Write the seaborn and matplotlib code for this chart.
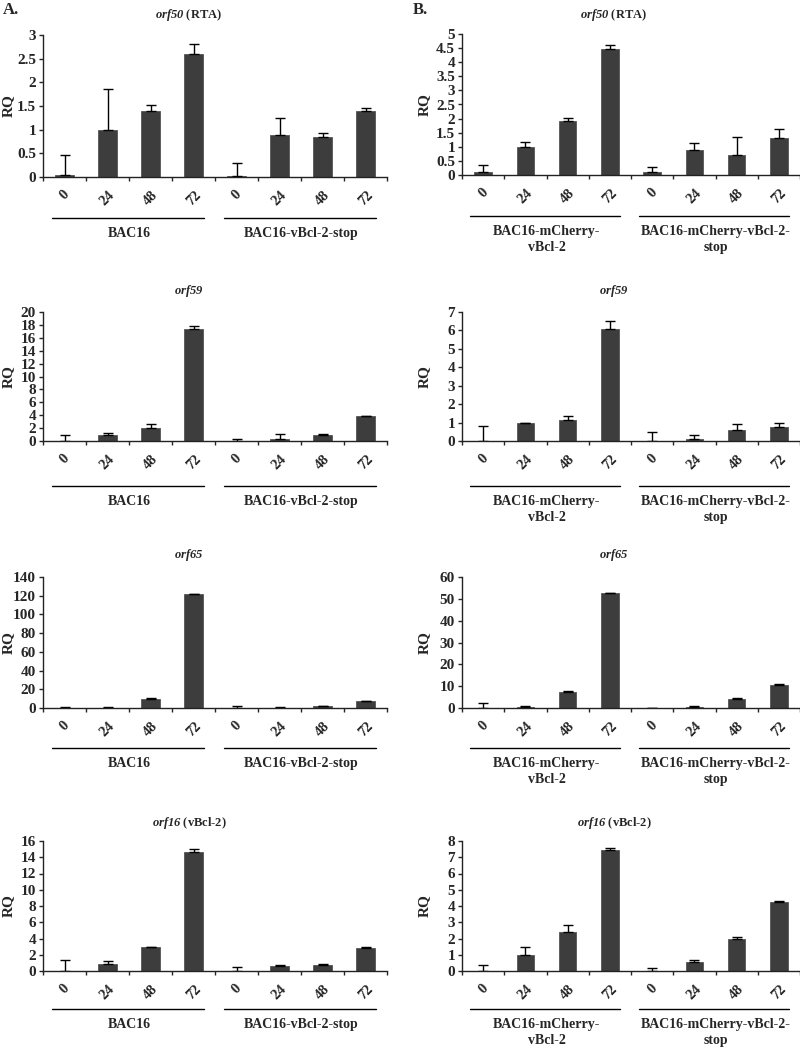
import numpy as np
import pandas as pd
import matplotlib
matplotlib.use('Agg')
import matplotlib.pyplot as plt
import matplotlib.transforms as mtrans
import seaborn as sns

# time points (h) and strains
hours = ['0', '24', '48', '72']
groups_a = ['BAC16', 'BAC16-vBcl-2-stop']
groups_b = ['BAC16-mCherry-\nvBcl-2', 'BAC16-mCherry-vBcl-2-\nstop']
genes = [r'$orf50$ (RTA)', r'$orf59$', r'$orf65$', r'$orf16$ (vBcl-2)']

# panel A values (wt 0,24,48,72 then stop 0,24,48,72), upper error
a_rq = [
    [0.04, 1.0, 1.4, 2.6, 0.02, 0.88, 0.85, 1.4],
    [0.05, 0.9, 2.0, 17.4, 0.05, 0.35, 0.9, 3.8],
    [0.5, 0.5, 10.0, 121.5, 0.5, 0.5, 2.0, 7.0],
    [0.02, 0.9, 2.95, 14.6, 0.02, 0.6, 0.8, 2.85],
]
a_err = [
    [0.42, 0.85, 0.12, 0.2, 0.28, 0.37, 0.09, 0.06],
    [0.95, 0.3, 0.6, 0.45, 0.25, 0.75, 0.15, 0.1],
    [0.1, 0.2, 0.4, 0.8, 2.0, 0.2, 0.3, 0.5],
    [1.33, 0.35, 0.05, 0.4, 0.43, 0.1, 0.02, 0.05],
]
a_ymax = [3, 20, 140, 16]
a_step = [0.5, 2, 20, 2]

# panel B values
b_rq = [
    [0.1, 1.0, 1.9, 4.47, 0.1, 0.9, 0.7, 1.3],
    [0.0, 0.97, 1.15, 6.07, 0.0, 0.12, 0.57, 0.77],
    [0.2, 0.5, 7.3, 52.5, 0.1, 0.5, 4.3, 10.6],
    [0.02, 1.0, 2.4, 7.47, 0.02, 0.58, 1.97, 4.25],
]
b_err = [
    [0.25, 0.18, 0.13, 0.13, 0.18, 0.25, 0.65, 0.33],
    [0.8, 0.03, 0.2, 0.43, 0.5, 0.2, 0.33, 0.2],
    [2.0, 0.3, 0.3, 0.3, 0.1, 0.3, 0.2, 0.2],
    [0.33, 0.5, 0.42, 0.08, 0.15, 0.09, 0.1, 0.08],
]
b_ymax = [5, 7, 60, 8]
b_step = [0.5, 1, 10, 1]

sns.set_style('ticks')
plt.rcParams['font.family'] = ['Liberation Serif', 'DejaVu Serif']
plt.rcParams['font.weight'] = 'bold'
plt.rcParams['mathtext.fontset'] = 'custom'
# gene names fully italic (digits too)
plt.rcParams['mathtext.it'] = 'Liberation Serif:italic:bold'
plt.rcParams['mathtext.rm'] = 'Liberation Serif:italic:bold'

W, H = 800, 1052
fig = plt.figure(figsize=(8, 10.52), dpi=100)

# pixel boxes: (top, bottom) per row, (left, right) per column
rows_a = [(35, 177), (312, 441), (577, 708), (841, 971)]
rows_b = [(34, 175), (312, 441), (577, 708), (841, 971)]
cols = [(43, 387), (462, 800)]
line_off = [41, 45, 40, 38]
title_y = [15, 291, 555, 823]
title_x = [189, 614]

bar_color = '#3d3d3d'


def draw_panel(ax, rq, err, ymax, step, groups, row):
    df = pd.DataFrame({'pos': np.arange(8), 'RQ': rq})
    sns.barplot(data=df, x='pos', y='RQ', color=bar_color, width=0.42,
                saturation=1, errorbar=None, edgecolor='#555555', linewidth=0.6, ax=ax)
    ax.errorbar(df['pos'], df['RQ'], yerr=[np.zeros(8), err], fmt='none',
                ecolor='black', elinewidth=1, capsize=3.5, capthick=1)
    ax.set_xlim(-0.5, 7.5)
    ax.set_ylim(0, ymax)
    ticks = np.arange(0, ymax + step / 2, step)
    ax.set_yticks(ticks)
    ax.set_yticklabels([('%g' % v) for v in ticks], fontsize=11, fontweight='bold')
    ax.set_xticks(np.arange(-0.5, 8, 1))
    ax.set_xticklabels([])
    ax.set_xticks(np.arange(8), minor=True)
    ax.set_xticklabels(hours * 2, minor=True, rotation=45, fontsize=10.5, fontweight='bold')
    ax.tick_params(axis='x', which='minor', length=0, pad=8)
    ax.tick_params(axis='x', which='major', length=3, width=1, direction='out')
    ax.tick_params(axis='y', length=3, width=1, pad=2)
    ax.set_xlabel('')
    ax.set_ylabel('RQ', fontsize=11, fontweight='bold', va='center')
    sns.despine(ax=ax)
    for s in ['left', 'bottom']:
        ax.spines[s].set_linewidth(1)
        ax.spines[s].set_color('#222222')

    # group underline + label below the tick labels
    off = mtrans.ScaledTranslation(0, -line_off[row] / 100, fig.dpi_scale_trans)
    tr = ax.get_xaxis_transform() + off
    for g, start in enumerate([0, 4]):
        ax.plot([start - 0.3, start + 3.25], [0, 0], color='black', lw=1,
                transform=tr, clip_on=False)
        toff = mtrans.ScaledTranslation(0, -(line_off[row] + 9) / 100, fig.dpi_scale_trans)
        ax.text(start + 1.5, 0, groups[g], transform=ax.get_xaxis_transform() + toff,
                ha='center', va='top', fontsize=10, fontweight='bold', linespacing=1.3)


for col, (rqs, errs, ymaxs, steps, groups, rows) in enumerate(
        [(a_rq, a_err, a_ymax, a_step, groups_a, rows_a),
         (b_rq, b_err, b_ymax, b_step, groups_b, rows_b)]):
    l, r = cols[col]
    for row in range(4):
        t, b = rows[row]
        ax = fig.add_axes([l / W, 1 - b / H, (r - l) / W, (b - t) / H])
        draw_panel(ax, rqs[row], errs[row], ymaxs[row], steps[row], groups, row)
        ax.yaxis.set_label_coords(-0.1 if col == 0 else -0.112, 0.5)
        fig.text(title_x[col] / W, 1 - title_y[row] / H, genes[row], ha='center',
                 va='center', fontsize=9, fontweight='bold')

fig.text(3 / W, 1 - 10 / H, 'A.', ha='left', va='center', fontsize=12, fontweight='bold')
fig.text(413 / W, 1 - 10 / H, 'B.', ha='left', va='center', fontsize=12, fontweight='bold')

fig.savefig('out.png', dpi=100)
